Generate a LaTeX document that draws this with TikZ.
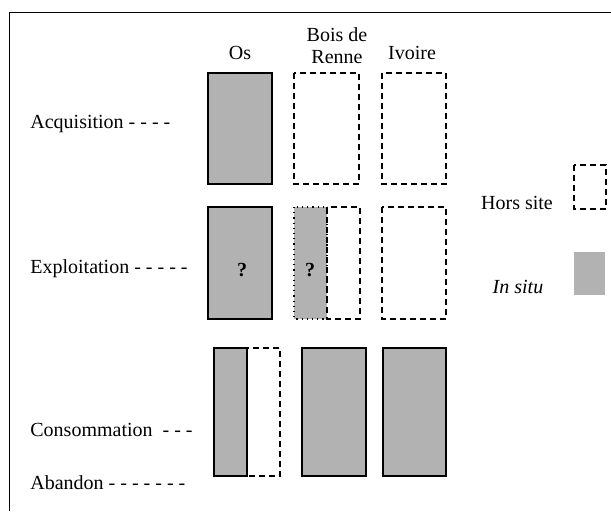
\documentclass[tikz,border=0pt]{standalone}
\usepackage{fontspec}
\setmainfont{Liberation Serif}
\definecolor{insitu}{gray}{0.7}

\begin{document}
\begin{tikzpicture}[x=0.5pt, y=-0.5pt]
            \tikzstyle{in situ} = [fill=insitu, draw=black, line width=0.8pt]
            \tikzstyle{hors site} = [draw=black, line width=0.8pt, dash pattern=on 3pt off 2pt]
            \tikzstyle{partial} = [fill=insitu, draw=black, line width=0.6pt, dotted]
            \tikzstyle{label} = [font=\fontsize{10}{11}\selectfont, inner sep=0pt]

            \useasboundingbox (0, 0) rectangle (611, 511);
            \draw[line width=0.5pt] (9, 511) -- (9, 12) -- (611, 12);

            % column headings
            \node[label] (os) at (240, 53) {Os};
            \node[label, align=center] (bois) at (337, 46) {Bois de\\Renne};
            \node[label] (ivoire) at (412, 53) {Ivoire};

            % stages
            \node[label, anchor=west] (acq) at (30, 124) {Acquisition - - - -};
            \node[label, anchor=west] (expl) at (30, 269) {Exploitation - - - - -};
            \node[label, anchor=west] (cons) at (30, 430) {Consommation~ - - -};
            \node[label, anchor=west] (aband) at (30, 483) {Abandon - - - - - - -};

            % acquisition
            \draw[in situ] (208, 73) rectangle (272, 184);
            \draw[hors site] (294, 73) rectangle (359, 184);
            \draw[hors site] (382, 73) rectangle (446, 184);

            % exploitation
            \draw[in situ] (208, 207) rectangle (272, 319);
            \draw[partial] (294, 207) rectangle (327, 319);
            \draw[hors site] (327, 207) rectangle (360, 319);
            \draw[hors site] (382, 207) rectangle (446, 319);
            \node[label, font=\fontsize{10}{11}\selectfont\bfseries] (q1) at (242, 270) {?};
            \node[label, font=\fontsize{10}{11}\selectfont\bfseries] (q2) at (310, 270) {?};

            % consommation / abandon
            \draw[in situ] (214, 348) rectangle (247, 476);
            \draw[hors site] (247, 348) rectangle (280, 476);
            \draw[in situ] (302, 348) rectangle (366, 476);
            \draw[in situ] (383, 348) rectangle (446, 476);

            % legend
            \node[label] (hors) at (517, 203) {Hors site};
            \draw[hors site] (574, 165) rectangle (606, 209);
            \node[label, font=\fontsize{10}{11}\selectfont\itshape] (situ) at (518, 287) {In situ};
            \fill[insitu] (574, 252) rectangle (605, 295);
\end{tikzpicture}
\end{document}
